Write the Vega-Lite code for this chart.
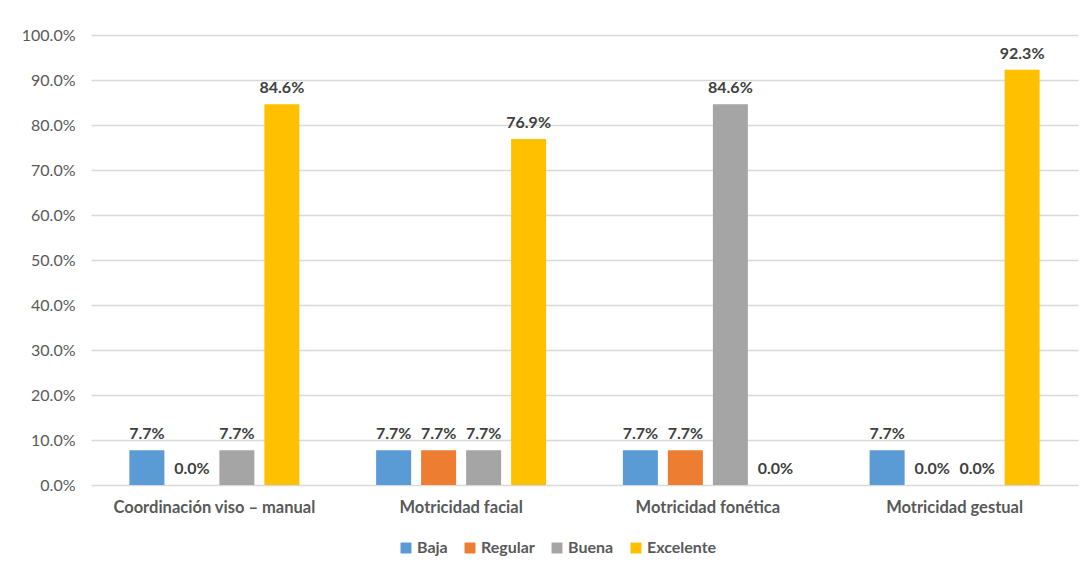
{
  "$schema": "https://vega.github.io/schema/vega-lite/v6.json",
  "width": 987,
  "height": 450,
  "autosize": {"type": "none"},
  "padding": {"left": 91, "top": 35, "right": 6, "bottom": 85},
  "background": "white",
  "config": {
    "font": "Lato",
    "view": {"stroke": null},
    "axis": {"labelFont": "Lato", "labelColor": "#595959"}
  },
  "data": {
    "values": [
      {"categoria": "Coordinación viso – manual", "nivel": "Baja", "valor": 0.077},
      {"categoria": "Coordinación viso – manual", "nivel": "Regular", "valor": 0.0},
      {"categoria": "Coordinación viso – manual", "nivel": "Buena", "valor": 0.077},
      {"categoria": "Coordinación viso – manual", "nivel": "Excelente", "valor": 0.846},
      {"categoria": "Motricidad facial", "nivel": "Baja", "valor": 0.077},
      {"categoria": "Motricidad facial", "nivel": "Regular", "valor": 0.077},
      {"categoria": "Motricidad facial", "nivel": "Buena", "valor": 0.077},
      {"categoria": "Motricidad facial", "nivel": "Excelente", "valor": 0.769},
      {"categoria": "Motricidad fonética", "nivel": "Baja", "valor": 0.077},
      {"categoria": "Motricidad fonética", "nivel": "Regular", "valor": 0.077},
      {"categoria": "Motricidad fonética", "nivel": "Buena", "valor": 0.846},
      {"categoria": "Motricidad fonética", "nivel": "Excelente", "valor": 0.0},
      {"categoria": "Motricidad gestual", "nivel": "Baja", "valor": 0.077},
      {"categoria": "Motricidad gestual", "nivel": "Regular", "valor": 0.0},
      {"categoria": "Motricidad gestual", "nivel": "Buena", "valor": 0.0},
      {"categoria": "Motricidad gestual", "nivel": "Excelente", "valor": 0.923}
    ]
  },
  "encoding": {
    "x": {
      "field": "categoria", "type": "nominal", "sort": null,
      "scale": {"paddingInner": 0, "paddingOuter": 0},
      "axis": {
        "title": null, "labelAngle": 0, "domain": false, "ticks": false,
        "labelFontSize": 16.5, "labelFontWeight": "bold", "labelPadding": 14,
        "labelLimit": 0
      }
    },
    "xOffset": {
      "field": "nivel", "type": "nominal",
      "sort": ["Baja", "Regular", "Buena", "Excelente"],
      "scale": {"paddingInner": 0.222, "paddingOuter": 0.853}
    },
    "y": {
      "field": "valor", "type": "quantitative",
      "scale": {"domain": [0, 1]},
      "axis": {
        "title": null, "format": ".1%", "values": [0,0.1,0.2,0.3,0.4,0.5,0.6,0.7,0.8,0.9,1.0],
        "labelOverlap": false,
        "domain": false, "ticks": false, "gridColor": "#d9d9d9", "gridWidth": 1.3,
        "labelFontSize": 16, "labelPadding": 16
      }
    }
  },
  "layer": [
    {
      "mark": {"type": "bar"},
      "encoding": {
        "color": {
          "field": "nivel", "type": "nominal",
          "sort": ["Baja", "Regular", "Buena", "Excelente"],
          "scale": {"domain": ["Baja", "Regular", "Buena", "Excelente"], "range": ["#5B9BD5", "#ED7D31", "#A5A5A5", "#FFC000"]},
          "legend": {
            "title": null, "orient": "none", "direction": "horizontal",
            "legendX": 307, "legendY": 505,
            "symbolType": "square", "symbolSize": 120, "symbolStrokeWidth": 0,
            "labelFontSize": 16, "labelFontWeight": "bold", "labelColor": "#595959",
            "columnPadding": 14, "labelOffset": 3
          }
        }
      }
    },
    {
      "mark": {"type": "text", "baseline": "bottom", "dy": -8, "fontWeight": "bold", "fontSize": 16, "color": "#404040"},
      "encoding": {
        "text": {"field": "valor", "type": "quantitative", "format": ".1%"}
      }
    }
  ]
}
